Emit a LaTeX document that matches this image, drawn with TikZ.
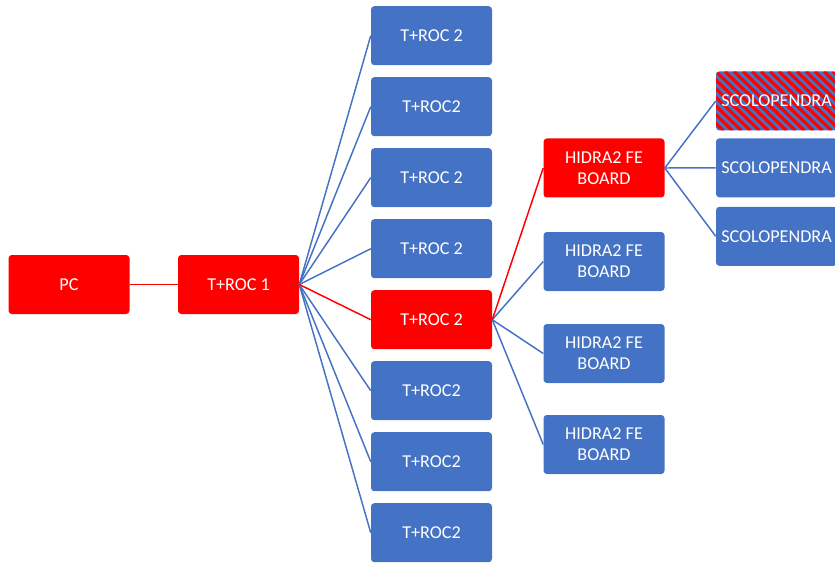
\documentclass[tikz,border=0pt]{standalone}
\usepackage{fontspec}
\setmainfont{Carlito}
\usepackage{tikz}
\usetikzlibrary{positioning}

\definecolor{boxblue}{RGB}{68,114,196}
\definecolor{boxred}{RGB}{255,0,0}

\tikzset{
  box/.style={rectangle, rounded corners=2.5pt, minimum width=90.75pt, minimum height=44.25pt,
    inner sep=0pt, text=white, align=center, font=\fontsize{13.6}{16}\selectfont},
  bluebox/.style={box, fill=boxblue},
  redbox/.style={box, fill=boxred},
  stripebox/.style={box, fill=boxblue,
    path picture={\foreach \s in {-63,-54,...,126}
      \draw[boxred, line width=2.4pt] ([xshift=\s*0.75pt]path picture bounding box.north west)
        -- ([xshift=\s*0.75pt+46pt]path picture bounding box.south west);}},
  blueline/.style={draw=boxblue, line width=1.1pt},
  redline/.style={draw=boxred, line width=1.1pt}
}

\begin{document}
\begin{tikzpicture}[x=0.75pt,y=0.75pt,yscale=-1,xscale=1]
\useasboundingbox (0,0) rectangle (835,563);

%Shape: PC and first T+ROC
\node[redbox] (pc) at (69,284.5) {PC};
\node[redbox] (troc1) at (238.5,284.5) {T+ROC 1};

%Shape: second column
\node[bluebox] (trocA) at (431.5,35.7) {T+ROC 2};
\node[bluebox] (trocB) at (431.5,106.7) {T+ROC2};
\node[bluebox] (trocC) at (431.5,177.7) {T+ROC 2};
\node[bluebox] (trocD) at (431.5,248.7) {T+ROC 2};
\node[redbox] (trocE) at (431.5,319.7) {T+ROC 2};
\node[bluebox] (trocF) at (431.5,390.7) {T+ROC2};
\node[bluebox] (trocG) at (431.5,461.7) {T+ROC2};
\node[bluebox] (trocH) at (431.5,532.7) {T+ROC2};

%Shape: FE boards
\node[redbox] (feA) at (604,168) {HIDRA2 FE\\BOARD};
\node[bluebox] (feB) at (604,261.5) {HIDRA2 FE\\BOARD};
\node[bluebox] (feC) at (604,353.5) {HIDRA2 FE\\BOARD};
\node[bluebox] (feD) at (604,444.5) {HIDRA2 FE\\BOARD};

%Shape: SCOLOPENDRA boards
\node[stripebox] (scoA) at (776.5,101) {SCOLOPENDRA};
\node[bluebox] (scoB) at (776.5,167.8) {SCOLOPENDRA};
\node[bluebox] (scoC) at (776.5,236.3) {SCOLOPENDRA};

%Straight Lines
\draw[redline] (pc.east) -- (troc1.west);

\draw[blueline] (troc1.east) -- (trocA.west);
\draw[blueline] (troc1.east) -- (trocB.west);
\draw[blueline] (troc1.east) -- (trocC.west);
\draw[blueline] (troc1.east) -- (trocD.west);
\draw[blueline] (troc1.east) -- (trocF.west);
\draw[blueline] (troc1.east) -- (trocG.west);
\draw[blueline] (troc1.east) -- (trocH.west);
\draw[redline] (troc1.east) -- (trocE.west);

\draw[blueline] (trocE.east) -- (feB.west);
\draw[blueline] (trocE.east) -- (feC.west);
\draw[blueline] (trocE.east) -- (feD.west);
\draw[redline] (trocE.east) -- (feA.west);

\draw[blueline] (feA.east) -- (scoA.west);
\draw[blueline] (feA.east) -- (scoB.west);
\draw[blueline] (feA.east) -- (scoC.west);

\end{tikzpicture}
\end{document}
